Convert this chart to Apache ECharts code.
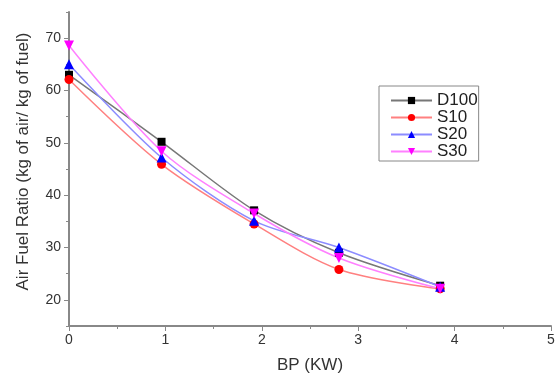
<!DOCTYPE html>
<html><head><meta charset="utf-8">
<script src="https://cdn.jsdelivr.net/npm/echarts@6/dist/echarts.min.js"></script>
<style>html,body{margin:0;padding:0;background:#fff}#c{width:558px;height:379px}</style>
</head><body><div id="c"></div>
<script>
const bp = [0, 0.96, 1.92, 2.80, 3.85];
const d100 = [63.0, 50.2, 37.1, 29.0, 22.7];
const s10 = [62.1, 45.9, 34.5, 25.8, 22.1];
const s20 = [65.0, 47.2, 35.1, 30.0, 22.5];
const s30 = [68.6, 48.4, 36.5, 28.0, 22.1];
const yLabels = [20, 30, 40, 50, 60, 70];
const yMinor = [15, 25, 35, 45, 55, 65, 75];
const names = ['D100', 'S10', 'S20', 'S30'];

const pts = a => a.map((v, i) => [bp[i], v]);
const font = 'Liberation Sans, Arial, sans-serif';
const mk = (name, data, sym, size, col, lineCol, rot) => ({
  name, type: 'line', data: pts(data), smooth: 0.3,
  symbol: sym, symbolSize: size, symbolRotate: rot || 0,
  itemStyle: {color: col}, lineStyle: {color: lineCol, width: 1.5}, z: 3
});
const chart = echarts.init(document.getElementById('c'));
chart.setOption({
  animation: false,
  grid: {left: 69, right: 7, top: 12, bottom: 49},
  legend: {
    data: names, orient: 'vertical', left: 379, top: 86,
    itemWidth: 41, itemHeight: 9, itemGap: 0,
    borderColor: '#888', borderWidth: 1, padding: [6, 1, 1, 11],
    textStyle: {fontFamily: font, fontSize: 17, lineHeight: 17, color: '#222'}
  },
  xAxis: {
    type: 'value', min: 0, max: 5, interval: 1,
    name: 'BP (KW)', nameLocation: 'middle', nameGap: 31,
    nameTextStyle: {fontFamily: font, fontSize: 17, color: '#333'},
    axisLine: {lineStyle: {color: '#888', width: 2}},
    axisTick: {length: 5, lineStyle: {color: '#888'}},
    minorTick: {show: true, splitNumber: 2, length: 3, lineStyle: {color: '#888'}},
    axisLabel: {fontFamily: font, fontSize: 14, color: '#333', margin: 7},
    splitLine: {show: false}
  },
  yAxis: [{
    type: 'value', min: 15, max: 75, interval: 5,
    name: 'Air Fuel Ratio (kg of air/ kg of fuel)', nameLocation: 'middle', nameGap: 37,
    nameTextStyle: {fontFamily: font, fontSize: 17, color: '#333', padding: [0, 0, 0, 15]},
    axisLine: {show: true, lineStyle: {color: '#888', width: 2}},
    axisTick: {show: true, customValues: yLabels, length: 5, lineStyle: {color: '#888'}},
    axisLabel: {customValues: yLabels, fontFamily: font, fontSize: 14, color: '#333', margin: 8},
    splitLine: {show: false}
  }, {
    type: 'value', min: 15, max: 75, interval: 5, position: 'left',
    axisLine: {show: false},
    axisTick: {show: true, customValues: yMinor, length: 3, lineStyle: {color: '#888'}},
    axisLabel: {show: false}, splitLine: {show: false}
  }],
  series: [
    mk('D100', d100, 'rect', 8, '#000', '#777'),
    mk('S10', s10, 'circle', 9, '#ff0000', '#ff8080'),
    mk('S20', s20, 'triangle', 10, '#0000ff', '#8c8cff'),
    mk('S30', s30, 'triangle', 10, '#ff00ff', '#ff80ff', 180)
  ]
});
</script></body></html>
